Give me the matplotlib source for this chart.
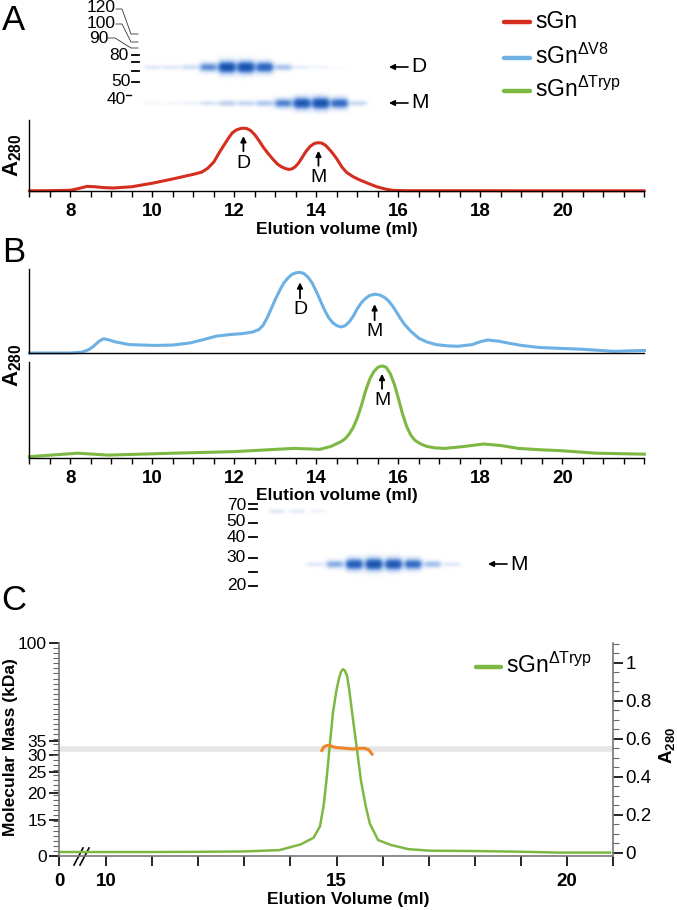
import numpy as np
import matplotlib
matplotlib.use("Agg")
import matplotlib.pyplot as plt
from matplotlib import transforms
from matplotlib.ticker import FixedLocator, MultipleLocator, NullFormatter
from matplotlib.colors import LinearSegmentedColormap

plt.rcParams['font.family'] = ['Liberation Sans', 'DejaVu Sans']
plt.rcParams['mathtext.fontset'] = 'custom'
plt.rcParams['mathtext.rm'] = 'Liberation Sans'
plt.rcParams['mathtext.bf'] = 'Liberation Sans:bold'
plt.rcParams['mathtext.it'] = 'Liberation Sans:italic'
plt.rcParams['mathtext.sf'] = 'Liberation Sans'

# ---------------- data ----------------
# Panel A: sGn elution profile (relative A280)
sgn_x = [7.0, 7.5, 8.0, 8.2, 8.4, 8.6, 8.8, 9.05, 9.5, 10.0, 10.5, 11.0, 11.2, 11.35, 11.5,
         11.62, 11.75, 11.85, 11.95, 12.05, 12.15, 12.22, 12.3, 12.4, 12.5, 12.6, 12.7, 12.82,
         12.95, 13.05, 13.15, 13.25, 13.32, 13.4, 13.48, 13.56, 13.65, 13.75, 13.85, 13.95, 14.05,
         14.13, 14.22, 14.31, 14.4, 14.5, 14.62, 14.74, 14.9, 15.06, 15.25, 15.47, 15.7, 15.88,
         16.2, 17.0, 18.0, 19.0, 20.0, 21.0, 22.0]
sgn_y = [0.003, 0.005, 0.01, 0.035, 0.065, 0.06, 0.048, 0.042, 0.06, 0.11, 0.17, 0.235, 0.265, 0.32, 0.41,
         0.53, 0.65, 0.74, 0.82, 0.86, 0.88, 0.885, 0.88, 0.85, 0.79, 0.71, 0.62, 0.53,
         0.44, 0.38, 0.34, 0.315, 0.305, 0.31, 0.34, 0.39, 0.47, 0.56, 0.63, 0.67, 0.68,
         0.675, 0.645, 0.59, 0.53, 0.45, 0.34, 0.26, 0.20, 0.155, 0.11, 0.06, 0.025, 0.008,
         0.004, 0.004, 0.004, 0.003, 0.003, 0.003, 0.003]

# Panel B: sGn dV8 (blue) and sGn dTryp (green)
v8_x = [7.0, 8.0, 8.28, 8.45, 8.55, 8.7, 8.81, 8.95, 9.07, 9.44, 10.07, 10.5, 10.92, 11.25, 11.55,
        11.9, 12.18, 12.45, 12.6, 12.7, 12.8, 12.9, 13.0, 13.1, 13.2, 13.3, 13.4, 13.5, 13.6,
        13.7, 13.8, 13.9, 14.0, 14.1, 14.2, 14.3, 14.4, 14.5, 14.6, 14.7, 14.8, 14.9, 15.0,
        15.1, 15.2, 15.3, 15.42, 15.55, 15.65, 15.75, 15.85, 15.95, 16.05, 16.15, 16.3, 16.5,
        16.7, 16.92, 17.2, 17.45, 17.8, 18.0, 18.18, 18.45, 18.71, 19.0, 19.45, 20.5, 21.24, 22.0]
v8_y = [0.0, 0.0, 0.01, 0.04, 0.075, 0.14, 0.17, 0.155, 0.135, 0.10, 0.09, 0.095, 0.12, 0.16, 0.20,
        0.22, 0.23, 0.25, 0.28, 0.33, 0.42, 0.53, 0.64, 0.74, 0.83, 0.89, 0.935, 0.955, 0.96,
        0.945, 0.90, 0.83, 0.73, 0.62, 0.51, 0.42, 0.36, 0.325, 0.31, 0.325, 0.37, 0.44, 0.53,
        0.60, 0.65, 0.685, 0.70, 0.69, 0.665, 0.625, 0.565, 0.49, 0.41, 0.34, 0.26, 0.175,
        0.13, 0.10, 0.085, 0.08, 0.10, 0.135, 0.155, 0.14, 0.115, 0.09, 0.065, 0.044, 0.02, 0.03]
tryp_x = [7.0, 8.18, 8.92, 10.5, 11.97, 13.44, 13.8, 14.08, 14.35, 14.6, 14.7, 14.8, 14.9, 15.0,
          15.1, 15.2, 15.3, 15.4, 15.5, 15.6, 15.7, 15.8, 15.9, 16.0, 16.1, 16.2, 16.3, 16.4,
          16.55, 16.7, 16.9, 17.13, 17.6, 18.08, 18.5, 18.92, 19.5, 19.97, 20.82, 22.0]
tryp_y = [0.014, 0.05, 0.03, 0.05, 0.066, 0.10, 0.095, 0.09, 0.12, 0.17, 0.20, 0.25, 0.32, 0.42,
          0.55, 0.70, 0.82, 0.90, 0.945, 0.96, 0.945, 0.88, 0.77, 0.62, 0.46, 0.33, 0.24, 0.185,
          0.145, 0.12, 0.105, 0.10, 0.12, 0.146, 0.13, 0.10, 0.085, 0.076, 0.05, 0.04]

# Panel C: SEC-MALS of sGn dTryp
c_x = [8.98, 10.0, 11.0, 12.0, 13.0, 13.76, 14.22, 14.5, 14.64, 14.72, 14.78, 14.85, 14.92, 15.0,
       15.06, 15.1, 15.14, 15.18, 15.23, 15.28, 15.34, 15.44, 15.53, 15.63, 15.72, 15.9, 16.18,
       16.56, 17.02, 18.0, 18.89, 19.82, 20.94]
c_a280 = [0.005, 0.005, 0.005, 0.006, 0.008, 0.015, 0.045, 0.08, 0.14, 0.25, 0.38, 0.56, 0.735, 0.86,
          0.925, 0.955, 0.967, 0.96, 0.93, 0.85, 0.735, 0.55, 0.38, 0.25, 0.156, 0.068, 0.042,
          0.02, 0.012, 0.01, 0.007, 0.002, 0.002]
mass_x = [14.68, 14.72, 14.78, 14.85, 14.92, 15.0, 15.15, 15.34, 15.5, 15.6, 15.7, 15.77]
mass_kda = [31.6, 32.8, 33.3, 33.4, 32.9, 32.6, 32.4, 32.1, 32.3, 32.4, 31.8, 30.4]
mass_ref = 32.0

# peak labels
peaksA = [(12.22, 'D'), (14.05, 'M')]
peaksB_v8 = [(13.6, 'D'), (15.42, 'M')]
peaksB_tryp = [(15.6, 'M')]

# gels (relative band intensities per lane)
gelA_D = [0.12, 0.12, 0.18, 0.6, 1.0, 1.0, 0.85, 0.32, 0.08, 0.05, 0.02, 0.0]
gelA_M = [0.04, 0.04, 0.06, 0.15, 0.25, 0.22, 0.3, 0.65, 0.95, 1.0, 0.8, 0.2]
gelA_marker_labels = ['120', '100', '90', '80', '50', '40']
gelC_M = [0.12, 0.45, 0.9, 1.0, 0.95, 0.8, 0.35, 0.12]
gelC_top = [0.12, 0.10, 0.06]
gelC_marker_labels = ['70', '50', '40', '30', '20']

xticksAB = [8, 10, 12, 14, 16, 18, 20]
ytick_mass = [15, 20, 25, 30, 35, 100]
ytick_a280 = [0, 0.2, 0.4, 0.6, 0.8, 1.0]
ytick_a280_labels = ['0', '0.2', '0.4', '0.6', '0.8', '1']

red = '#D42E1E'
blue = '#6CB0E4'
green = '#7DB843'
orange = '#EE8526'

# ---------------- figure ----------------
W, H = 677, 910
fig = plt.figure(figsize=(W / 100, H / 100), dpi=100)
PX = transforms.Affine2D().scale(1, -1).translate(0, H)


def rect(l, t, r, b):
    return [l / W, 1 - b / H, (r - l) / W, (b - t) / H]


ov = fig.add_axes([0, 0, 1, 1])
ov.axis('off')

# ---- gels ----
gel_cmap = LinearSegmentedColormap.from_list('gel', ['#FFFFFF', '#A9C4EC', '#4A7ECF', '#1C51AA'])


def gel(x0, x1, y0, y1, rows):
    xs = np.arange(x0, x1, 0.5)
    ys = np.arange(y0, y1, 0.5)
    X, Y = np.meshgrid(xs, ys)
    A = np.zeros_like(X)
    for centers, cy, intens, w in rows:
        for cx, I in zip(centers, intens):
            h = 4 + 8 * I
            A += I * np.exp(-np.abs((X - cx) / (w / 2)) ** 4) * np.exp(-((Y - cy) / (h / 2)) ** 2)
    ov.imshow(np.clip(A, 0, 1), cmap=gel_cmap, vmin=0, vmax=1, extent=(x0, x1, y1, y0),
              origin='upper', aspect='auto', interpolation='bilinear', zorder=0)


lanesA = np.linspace(152, 358, len(gelA_D))
gel(140, 372, 0, 116, [(lanesA, 67, gelA_D, 18), (lanesA, 103, gelA_M, 18)])
lanesC = np.linspace(315, 452, len(gelC_M))
lanesCt = np.linspace(277, 317, len(gelC_top))
gel(262, 480, 496, 600, [(lanesC, 564, gelC_M, 18), (lanesCt, 511, gelC_top, 16)])

# gel A markers
mk_lab_pos = [(116, 7.5), (116, 23.5), (108, 38.5), (129, 55), (131, 82), (126, 99)]
for s, (x, y) in zip(gelA_marker_labels, mk_lab_pos):
    ov.text(x, y, s, ha='right', va='center', fontsize=12.5)
for pts in [[(116, 9), (122, 9), (131, 34), (138, 34)],
            [(116, 24), (122, 24), (131, 42), (138, 42)],
            [(108, 38), (115, 38), (131, 48), (138, 48)]]:
    ov.plot([p[0] for p in pts], [p[1] for p in pts], color='#333333', lw=0.6)
for y in [55, 62, 71, 82]:
    ov.plot([132, 139], [y, y], color='k', lw=1.3)
ov.plot([126, 131], [95, 95], color='k', lw=1.0)

# gel C markers
for s, y in zip(gelC_marker_labels, [505, 521.5, 537.5, 557, 586]):
    ov.text(246, y, s, ha='right', va='center', fontsize=12.5)
for y in [504, 509, 523, 537, 558, 572, 586]:
    ov.plot([249, 257], [y, y], color='k', lw=1.3)

# gel arrows
for y, s, xa in [(67, 'D', 389), (103, 'M', 389), (564, 'M', 488)]:
    ov.annotate('', xy=(xa, y), xytext=(xa + 19, y),
                arrowprops=dict(arrowstyle='-|>', color='k', lw=1.2, mutation_scale=8,
                                shrinkA=0, shrinkB=0))
    ov.text(xa + 22, y, s, ha='left', va='center', fontsize=15)

# legend for A/B
for y, col, lab in [(22, red, 'sGn'), (58, blue, r'sGn$^{\mathrm{ΔV8}}$'),
                    (91, green, r'sGn$^{\mathrm{ΔTryp}}$')]:
    ov.plot([504, 530], [y, y], color=col, lw=3.2, solid_capstyle='round')
    ov.text(535, y + 6, lab, ha='left', va='baseline', fontsize=16.5)

# legend for C
ov.plot([476, 501], [667, 667], color=green, lw=3.2, solid_capstyle='round')
ov.text(506, 673, r'sGn$^{\mathrm{ΔTryp}}$', ha='left', va='baseline', fontsize=16.5)

# break marks on C x axis
ov.plot([74, 83], [865, 848], color='k', lw=1.2)
ov.plot([80, 89], [865, 848], color='k', lw=1.2)

# panel letters
for s, y in [('A', 20), ('B', 253), ('C', 600)]:
    ov.text(14, y, s, ha='center', va='center', fontsize=25)

ov.set_xlim(0, W)
ov.set_ylim(H, 0)


def mark(ax, x, y, s, tip=8, tail=23, txt=35):
    t_tip = transforms.offset_copy(ax.transData, fig=fig, x=0, y=-tip, units='dots')
    t_tail = transforms.offset_copy(ax.transData, fig=fig, x=0, y=-tail, units='dots')
    ax.annotate('', xy=(x, y), xycoords=t_tip, xytext=(x, y), textcoords=t_tail,
                arrowprops=dict(arrowstyle='-|>', color='k', lw=1.3, mutation_scale=8,
                                shrinkA=0, shrinkB=0), annotation_clip=False)
    ax.annotate(s, xy=(x, y), xytext=(0, -txt), textcoords='offset pixels',
                ha='center', va='center', fontsize=14, annotation_clip=False)


def style_ab(ax, ticks=True):
    ax.set_xlim(7, 22)
    ax.set_ylim(0, 1)
    ax.patch.set_alpha(0)
    for sp in ['top', 'right']:
        ax.spines[sp].set_visible(False)
    for sp in ['left', 'bottom']:
        ax.spines[sp].set_linewidth(1.0)
    ax.set_yticks([])
    if ticks:
        ax.set_xticks(xticksAB, [str(t) for t in xticksAB], fontweight='bold', fontsize=13.5)
        ax.xaxis.set_minor_locator(MultipleLocator(0.5))
        ax.tick_params(axis='x', which='both', direction='out', length=4.5, width=1.0, pad=4)
    else:
        ax.tick_params(axis='x', which='both', length=0, labelbottom=False)


A280 = r'$\mathbf{A_{280}}$'

# ---- Panel A ----
axA = fig.add_axes(rect(29.4, 120, 644.4, 191))
style_ab(axA)
axA.plot(sgn_x, sgn_y, color=red, lw=2.2, clip_on=False, solid_capstyle='round')
for px_, s in peaksA:
    mark(axA, px_, np.interp(px_, sgn_x, sgn_y), s)
axA.set_xlabel('Elution volume (ml)', fontweight='bold', fontsize=12.5)
axA.xaxis.set_label_coords(337, 222, transform=PX)
axA.set_ylabel(A280, fontsize=16)
axA.yaxis.set_label_coords(24, 155, transform=PX)

# ---- Panel B ----
axB1 = fig.add_axes(rect(29.4, 269, 644.4, 353))
style_ab(axB1, ticks=False)
axB1.plot(v8_x, v8_y, color=blue, lw=2.2, clip_on=False)
for px_, s in peaksB_v8:
    mark(axB1, px_, np.interp(px_, v8_x, v8_y), s, tip=10, tail=26, txt=37)

axB2 = fig.add_axes(rect(29.4, 362, 644.4, 458))
style_ab(axB2)
axB2.plot(tryp_x, tryp_y, color=green, lw=2.2, clip_on=False)
for px_, s in peaksB_tryp:
    mark(axB2, px_, np.interp(px_, tryp_x, tryp_y), s)
axB2.set_xlabel('Elution volume (ml)', fontweight='bold', fontsize=12.5)
axB2.xaxis.set_label_coords(337, 488, transform=PX)
axB2.set_ylabel(A280, fontsize=16)
axB2.yaxis.set_label_coords(24, 365, transform=PX)

# ---- Panel C ----
axC = fig.add_axes(rect(59.2, 643, 613, 856))
axC.patch.set_alpha(0)
axM = axC.twinx()

axC.set_xlim(8.98, 21.0)
axC.set_ylim(-0.016, 1.105)
axC.yaxis.tick_right()
axC.yaxis.set_label_position('right')
axC.set_yticks(ytick_a280, ytick_a280_labels, fontsize=13.5)
axC.yaxis.set_minor_locator(MultipleLocator(0.05))
axC.tick_params(axis='y', which='major', direction='out', length=7, width=1.2, pad=2)
axC.tick_params(axis='y', which='minor', direction='out', length=4, width=0.8, color='#666666')
axC.set_xticks([8.98, 10, 15, 20], ['0', '10', '15', '20'], fontweight='bold', fontsize=13.5)
axC.xaxis.set_minor_locator(FixedLocator([11, 12, 13, 14, 16, 17, 18, 19, 21]))
axC.tick_params(axis='x', which='both', direction='out', length=7, width=1.2, pad=5)
axC.spines['top'].set_visible(False)
axC.spines['left'].set_visible(False)
for sp in ['right', 'bottom']:
    axC.spines[sp].set_color('#777777')
    axC.spines[sp].set_linewidth(1.2)

axM.set_yscale('log')
axM.set_ylim(10.2, 100)
axM.yaxis.tick_left()
axM.yaxis.set_label_position('left')
axM.set_yticks([10.2] + ytick_mass, ['0'] + [str(v) for v in ytick_mass], fontsize=12.5)
axM.yaxis.set_minor_locator(FixedLocator(10 ** np.linspace(np.log10(10.2), 2, 43)))
axM.yaxis.set_minor_formatter(NullFormatter())
axM.tick_params(axis='y', which='major', direction='out', length=7, width=1.2, pad=2)
axM.tick_params(axis='y', which='minor', direction='out', length=4, width=0.8, color='#666666')
for sp in ['top', 'right', 'bottom']:
    axM.spines[sp].set_visible(False)
axM.spines['left'].set_color('#777777')
axM.spines['left'].set_linewidth(1.2)

band_tr = transforms.blended_transform_factory(axC.transAxes, axM.transData)
axC.plot([0, 1], [mass_ref, mass_ref], transform=band_tr, color='#E6E6E6', lw=4, zorder=1)
axC.plot(c_x, c_a280, color=green, lw=1.8, zorder=2, clip_on=False)
axM.plot(mass_x, mass_kda, color=orange, lw=2.2, zorder=3)

axC.set_xlabel('Elution Volume (ml)', fontweight='bold', fontsize=12.5)
axC.xaxis.set_label_coords(348, 892, transform=PX)
axC.set_ylabel(A280, fontsize=13.5)
axC.yaxis.set_label_coords(657, 745, transform=PX)
axM.set_ylabel('Molecular Mass (kDa)', fontweight='bold', fontsize=12.5)
axM.yaxis.set_label_coords(18, 747, transform=PX)

fig.savefig('out.png', dpi=100)
